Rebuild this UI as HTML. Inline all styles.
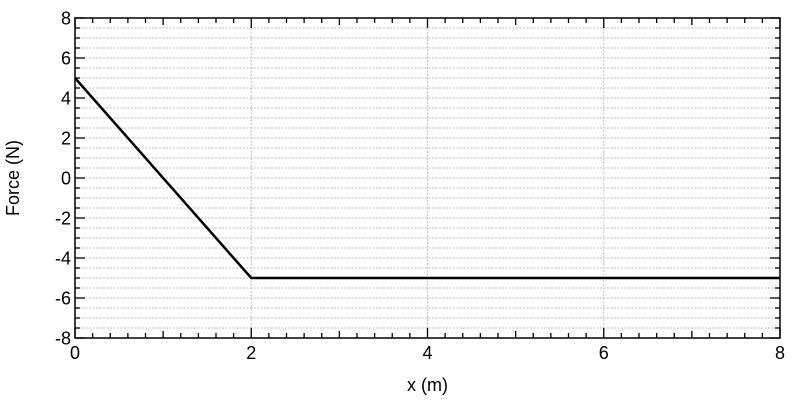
<!DOCTYPE html>
<html><head><meta charset="utf-8"><style>body{margin:0;background:#fff}svg{display:block}text{font-family:"Liberation Sans",sans-serif;fill:#000}</style></head>
<body>
<svg id="c" width="800" height="400"></svg>
<script>
const xs=[0,2,8];
const ys=[5,-5,-5];
const xTicks=[0,2,4,6,8];
const yTicks=[-8,-6,-4,-2,0,2,4,6,8];
const L=75,R=780,T=18,B=338;
const X=v=>L+(v-0)/(8-0)*(R-L);
const Y=v=>B-(v+8)/16*(B-T);
const svg=document.getElementById('c');const NS='http://www.w3.org/2000/svg';
function mk(t,a,p){const e=document.createElementNS(NS,t);for(const k in a)e.setAttribute(k,a[k]);(p||svg).appendChild(e);return e;}
const g=mk('g',{});


for(let v=-7.5;v<8;v+=0.5){const y=Y(v);mk('line',{x1:L,x2:R,y1:y,y2:y,stroke:'#aaa','stroke-width':0.7,'stroke-dasharray':'2,1.5'},g);}
for(const v of xTicks.slice(1,-1)){mk('line',{x1:X(v),x2:X(v),y1:T,y2:B,stroke:'#aaa','stroke-width':0.7,'stroke-dasharray':'2,1.5'},g);}
const tk=mk('g',{stroke:'#000','stroke-width':1.3});


for(let i=0;i<=40;i++){const v=i*0.2,x=X(v);const len=(i%10==0)?10:(i%5==0?7:5);
mk('line',{x1:x,x2:x,y1:B,y2:B-len},tk);mk('line',{x1:x,x2:x,y1:T,y2:T+len},tk);}
for(let i=0;i<=32;i++){const v=-8+i*0.5,y=Y(v);const len=(i%4==0)?10:5;
mk('line',{x1:L,x2:L+len,y1:y,y2:y},tk);mk('line',{x1:R,x2:R-len,y1:y,y2:y},tk);}
for(const v of xTicks){const t=mk('text',{x:X(v),y:B+21,'text-anchor':'middle','font-size':18});t.textContent=v;

}
for(const v of yTicks){const t=mk('text',{x:L-4,y:Y(v)+6.5,'text-anchor':'end','font-size':18});t.textContent=v;

}
const fr=mk('rect',{x:L,y:T,width:R-L,height:B-T,fill:'none',stroke:'#000','stroke-width':1.5});


const pl=mk('polyline',{points:xs.map((x,i)=>X(x)+','+Y(ys[i])).join(' '),fill:'none',stroke:'#000','stroke-width':2.5});


const xt=mk('text',{x:(L+R)/2,y:391,'text-anchor':'middle','font-size':18});xt.textContent='x (m)';


const yt=mk('text',{x:0,y:0,'text-anchor':'middle','font-size':18,transform:'translate(19,178) rotate(-90)'});yt.textContent='Force (N)';


</script>
</body></html>
